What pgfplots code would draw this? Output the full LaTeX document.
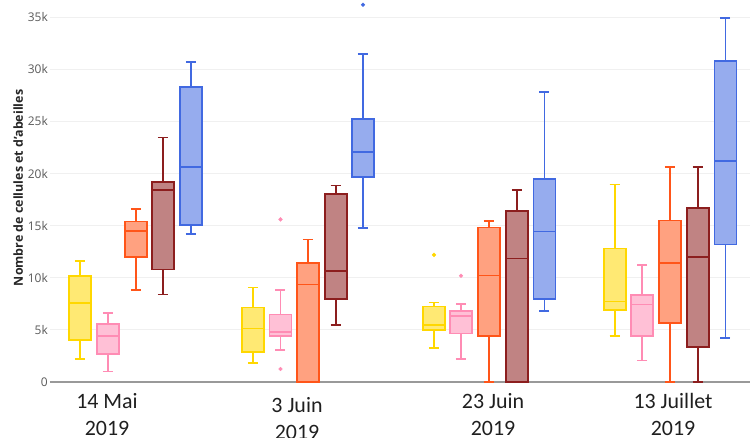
\documentclass[border=0pt]{standalone}
\usepackage{fontspec}
\setmainfont{Open Sans}
\newfontfamily\calibri{Carlito}
\usepackage{pgfplots}
\pgfplotsset{compat=1.18}
\usepgfplotslibrary{statistics}

\definecolor{cjaune}{RGB}{255,215,0}
\definecolor{crose}{RGB}{255,140,180}
\definecolor{corange}{RGB}{255,85,25}
\definecolor{cbrun}{RGB}{140,30,30}
\definecolor{cbleu}{RGB}{65,105,225}

\pgfplotsset{
  bx/.style={draw=#1, fill=#1!55!white, line width=1.8bp, solid,
    mark=*, mark size=1.9bp, mark options={draw=#1, fill=#1, line width=0.4bp}},
}

\begin{document}
\begin{tikzpicture}
\useasboundingbox (-50bp,-56bp) rectangle (700bp,382bp);
\begin{axis}[
  at={(0,0)}, anchor=south west,
  scale only axis, width=700bp, height=382bp,
  xmin=50, xmax=750, ymin=0, ymax=36.65,
  clip=false,
  axis line style={draw=none}, tick style={draw=none},
  ytick={5,10,...,35},
  yticklabels={5k,10k,15k,20k,25k,30k,35k},
  extra y ticks={0}, extra y tick labels={0},
  extra y tick style={ymajorgrids=true, major grid style={draw=black!40, line width=1.6bp}},
  ymajorgrids, major grid style={draw=black!6, line width=1bp},
  yticklabel style={font=\fontsize{12}{13}\selectfont, text=black!65, inner sep=0pt, xshift=-2bp},
  /pgf/number format/assume math mode=true,
  xtick={107,493,673},
  xticklabels={{14 Mai\\2019},{23 Juin\\2019},{13 Juillet\\2019}},
  extra x ticks={297}, extra x tick labels={{3 Juin\\2019}},
  extra x tick style={xticklabel style={yshift=-4bp}},
  xticklabel style={font=\calibri\fontsize{22}{27}\selectfont, align=center,
    text=black!88, anchor=north, inner sep=0pt, yshift=-11bp},
  ylabel={Nombre de cellules et d'abeilles},
  every axis y label/.style={at={(axis description cs:-0.0453,0.508)},
    rotate=90, anchor=center, font=\bfseries\fontsize{12.5}{13}\selectfont, text=black!85},
  boxplot/draw direction=y,
  boxplot/box extend=22,
  boxplot/whisker extend=10,
  boxplot/every whisker/.style={line width=1.8bp},
  boxplot/every median/.style={line width=1.8bp},
]
% 14 Mai 2019
\addplot[bx=cjaune, boxplot prepared={draw position=80, lower whisker=2.2, lower quartile=4.0, median=7.6, upper quartile=10.2, upper whisker=11.6}] coordinates {};
\addplot[bx=crose, boxplot prepared={draw position=108, lower whisker=1.0, lower quartile=2.7, median=4.4, upper quartile=5.6, upper whisker=6.6}] coordinates {};
\addplot[bx=corange, boxplot prepared={draw position=136, lower whisker=8.85, lower quartile=12.0, median=14.5, upper quartile=15.4, upper whisker=16.6}] coordinates {};
\addplot[bx=cbrun, boxplot prepared={draw position=163, lower whisker=8.4, lower quartile=10.8, median=18.4, upper quartile=19.2, upper whisker=23.45}] coordinates {};
\addplot[bx=cbleu, boxplot prepared={draw position=191, lower whisker=14.2, lower quartile=15.1, median=20.6, upper quartile=28.3, upper whisker=30.7}] coordinates {};
% 3 Juin 2019
\addplot[bx=cjaune, boxplot prepared={draw position=253, lower whisker=1.85, lower quartile=2.84, median=5.14, upper quartile=7.15, upper whisker=9.07}] coordinates {};
\addplot[bx=crose, boxplot prepared={draw position=280.5, lower whisker=3.07, lower quartile=4.44, median=4.8, upper quartile=6.48, upper whisker=8.85}] coordinates {(0,15.6) (0,1.25)};
\addplot[bx=corange, boxplot prepared={draw position=308, lower whisker=0, lower quartile=0, median=9.36, upper quartile=11.44, upper whisker=13.67}] coordinates {};
\addplot[bx=cbrun, boxplot prepared={draw position=335.7, lower whisker=5.46, lower quartile=8.0, median=10.64, upper quartile=18.05, upper whisker=18.85}] coordinates {};
\addplot[bx=cbleu, boxplot prepared={draw position=363, lower whisker=14.8, lower quartile=19.65, median=22.1, upper quartile=25.27, upper whisker=31.5}] coordinates {(0,36.2)};
% 23 Juin 2019
\addplot[bx=cjaune, boxplot prepared={draw position=434, lower whisker=3.26, lower quartile=5.0, median=5.5, upper quartile=7.25, upper whisker=7.63}] coordinates {(0,12.2)};
\addplot[bx=crose, boxplot prepared={draw position=461, lower whisker=2.23, lower quartile=4.66, median=6.33, upper quartile=6.84, upper whisker=7.48}] coordinates {(0,10.2)};
\addplot[bx=corange, boxplot prepared={draw position=489, lower whisker=0, lower quartile=4.44, median=10.22, upper quartile=14.83, upper whisker=15.47}] coordinates {};
\addplot[bx=cbrun, boxplot prepared={draw position=517, lower whisker=0, lower quartile=0, median=11.85, upper quartile=16.42, upper whisker=18.44}] coordinates {};
\addplot[bx=cbleu, boxplot prepared={draw position=544.5, lower whisker=6.8, lower quartile=7.96, median=14.44, upper quartile=19.46, upper whisker=27.86}] coordinates {};
% 13 Juillet 2019
\addplot[bx=cjaune, boxplot prepared={draw position=614.7, lower whisker=4.44, lower quartile=6.87, median=7.73, upper quartile=12.8, upper whisker=18.95}] coordinates {};
\addplot[bx=crose, boxplot prepared={draw position=642.3, lower whisker=2.07, lower quartile=4.44, median=7.44, upper quartile=8.34, upper whisker=11.2}] coordinates {};
\addplot[bx=corange, boxplot prepared={draw position=670, lower whisker=0, lower quartile=5.65, median=11.4, upper quartile=15.5, upper whisker=20.6}] coordinates {};
\addplot[bx=cbrun, boxplot prepared={draw position=697.7, lower whisker=0, lower quartile=3.38, median=12.0, upper quartile=16.7, upper whisker=20.6}] coordinates {};
\addplot[bx=cbleu, boxplot prepared={draw position=725.5, lower whisker=4.25, lower quartile=13.2, median=21.2, upper quartile=30.8, upper whisker=34.9}] coordinates {};
\end{axis}
\end{tikzpicture}
\end{document}
